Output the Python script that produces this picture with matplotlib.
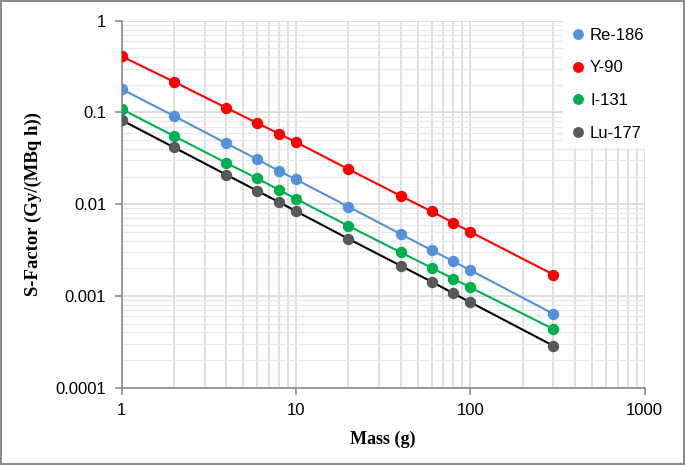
import matplotlib.pyplot as plt
from matplotlib.lines import Line2D
from matplotlib.ticker import LogLocator, FixedLocator, NullFormatter

mass = [1, 2, 4, 6, 8, 10, 20, 40, 60, 80, 100, 300]
re186 = [0.18, 0.0914, 0.046, 0.0308, 0.0231, 0.0186, 0.0094, 0.00472, 0.00316, 0.00238, 0.00191, 0.000638]
y90 = [0.41, 0.216, 0.112, 0.0766, 0.0586, 0.0475, 0.0241, 0.0123, 0.00834, 0.00627, 0.0050, 0.00171]
i131 = [0.109, 0.0553, 0.0281, 0.0191, 0.01436, 0.01145, 0.0058, 0.00298, 0.00203, 0.00154, 0.00124, 0.000435]
lu177 = [0.0826, 0.0416, 0.0209, 0.014, 0.01054, 0.0084, 0.0042, 0.00213, 0.00143, 0.00107, 0.000855, 0.000286]

series = [
    ('Re-186', re186, '#5590da', '#5590da'),
    ('Y-90', y90, '#ff0000', '#ff0000'),
    ('I-131', i131, '#00b050', '#00b050'),
    ('Lu-177', lu177, '#000000', '#595959'),
]

fig = plt.figure(figsize=(6.85, 4.65), dpi=100)
ax = fig.add_axes([0.1774, 0.1662, 0.7636, 0.7893])

for name, vals, lc, mc in series:
    ax.plot(mass, vals, color=lc, lw=1.5, zorder=3)
    ax.plot(mass, vals, 'o', color=mc, ms=7.2, mec=mc, zorder=4)

ax.set_xscale('log')
ax.set_yscale('log')
ax.set_xlim(1, 1000)
ax.set_ylim(0.0001, 1)
ax.xaxis.set_major_locator(FixedLocator([1, 10, 100, 1000]))
ax.yaxis.set_major_locator(FixedLocator([0.0001, 0.001, 0.01, 0.1, 1]))
ax.set_xticklabels(['1', '10', '100', '1000'])
ax.set_yticklabels(['0.0001', '0.001', '0.01', '0.1', '1'])
ax.xaxis.set_minor_locator(LogLocator(base=10, subs=range(2, 10)))
ax.yaxis.set_minor_locator(LogLocator(base=10, subs=range(2, 10)))
ax.xaxis.set_minor_formatter(NullFormatter())
ax.yaxis.set_minor_formatter(NullFormatter())

ax.grid(True, which='major', color='#d9d9d9', lw=1.2)
ax.grid(True, which='minor', axis='x', color='#d9d9d9', lw=1.2)
ax.grid(True, which='minor', axis='y', color='#e8e8e8', lw=0.9)
ax.set_axisbelow(True)

for s in ['top', 'right']:
    ax.spines[s].set_visible(False)
for s in ['left', 'bottom']:
    ax.spines[s].set_color('#8c8c8c')
    ax.spines[s].set_linewidth(1.2)
ax.tick_params(which='major', length=5, color='#8c8c8c', width=1.2,
               labelsize=12, pad=6)
ax.tick_params(which='minor', length=0)
for lbl in ax.get_xticklabels() + ax.get_yticklabels():
    lbl.set_family('Liberation Sans')

ax.set_xlabel('Mass (g)', family='Liberation Serif', fontweight='bold',
              fontsize=13, labelpad=9)
ax.set_ylabel('S-Factor (Gy/(MBq h))', family='Liberation Serif',
              fontweight='bold', fontsize=13.5, labelpad=10)

handles = [Line2D([], [], marker='o', ls='none', color=mc, ms=6.8)
           for name, vals, lc, mc in series]
labels = [name for name, vals, lc, mc in series]
leg = fig.legend(handles, labels, loc='upper left',
                 bbox_to_anchor=(555 / 685, 1 - 13 / 465),
                 frameon=True, fancybox=False, framealpha=1,
                 edgecolor='white', facecolor='white',
                 prop={'family': 'Liberation Sans', 'size': 12},
                 labelspacing=1.05, handletextpad=0.2, handlelength=1.0,
                 borderpad=0.4)

fig.patches.append(plt.Rectangle((0.002, 0.002), 0.996, 0.996,
                                 transform=fig.transFigure, fill=False,
                                 edgecolor='#8c8c8c', lw=1.5))

fig.savefig('out.png', dpi=100)
